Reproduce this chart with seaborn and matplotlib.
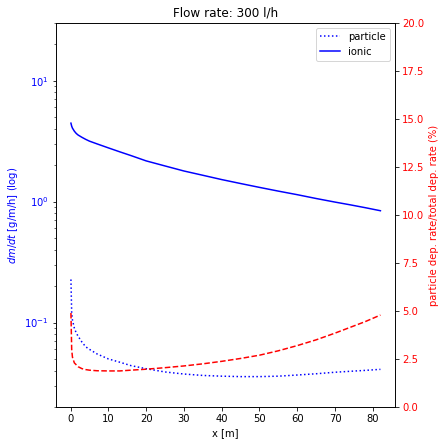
import numpy as np
import pandas as pd
import seaborn as sns
import matplotlib
matplotlib.use("Agg")
import matplotlib.pyplot as plt

# values
x_m = [0.1, 0.3, 0.5, 1, 1.5, 2, 3, 4, 5, 7, 10, 13, 16, 20, 25, 30, 35,
       40, 45, 50, 55, 60, 65, 70, 74, 78, 82]
particle = [0.227, 0.12, 0.105, 0.09, 0.082, 0.077, 0.069, 0.063, 0.06,
            0.055, 0.05, 0.047, 0.044, 0.0415, 0.039, 0.0375, 0.0365,
            0.036, 0.0357, 0.0357, 0.036, 0.0368, 0.0377, 0.0388, 0.0395,
            0.0402, 0.041]
ionic = [4.45, 4.2, 4.05, 3.82, 3.66, 3.55, 3.4, 3.27, 3.16, 3.0, 2.78,
         2.58, 2.4, 2.17, 1.97, 1.79, 1.65, 1.52, 1.41, 1.31, 1.22, 1.14,
         1.06, 0.99, 0.94, 0.89, 0.84]
ratio_pct = [4.9, 3.0, 2.6, 2.3, 2.2, 2.1, 2.0, 1.95, 1.92, 1.89, 1.88,
             1.88, 1.92, 1.97, 2.05, 2.14, 2.25, 2.38, 2.53, 2.7, 2.93, 3.2,
             3.5, 3.85, 4.15, 4.45, 4.79]

df = pd.DataFrame({'x': x_m, 'particle': particle, 'ionic': ionic,
                   'ratio': ratio_pct})

fig, ax1 = plt.subplots(figsize=(443 / 72, 441 / 72), dpi=72)
fig.subplots_adjust(left=0.126, right=0.892, top=0.948, bottom=0.077)

sns.lineplot(data=df, x='x', y='particle', ax=ax1, color='b',
             linestyle=':', label='particle')
sns.lineplot(data=df, x='x', y='ionic', ax=ax1, color='b',
             linestyle='-', label='ionic')
ax1.set_yscale('log')
ax1.set_ylim(0.02, 30)
ax1.set_xlim(-3.9, 85.9)
ax1.set_xticks(np.arange(0, 81, 10))
ax1.set_xlabel('x [m]')
ax1.set_ylabel('$dm/dt$ [g/m/h] (log)', color='b')
ax1.tick_params(axis='y', labelcolor='b')
ax1.set_title('Flow rate: 300 l/h')
ax1.legend(loc='upper right')

ax2 = ax1.twinx()
sns.lineplot(data=df, x='x', y='ratio', ax=ax2, color='r',
             linestyle='--')
ax2.set_ylim(0, 20)
ax2.set_yticks(np.arange(0, 20.1, 2.5))
ax2.set_ylabel('particle dep. rate/total dep. rate (%)', color='r')
ax2.tick_params(axis='y', labelcolor='r')

plt.savefig('out.png', dpi=72)
